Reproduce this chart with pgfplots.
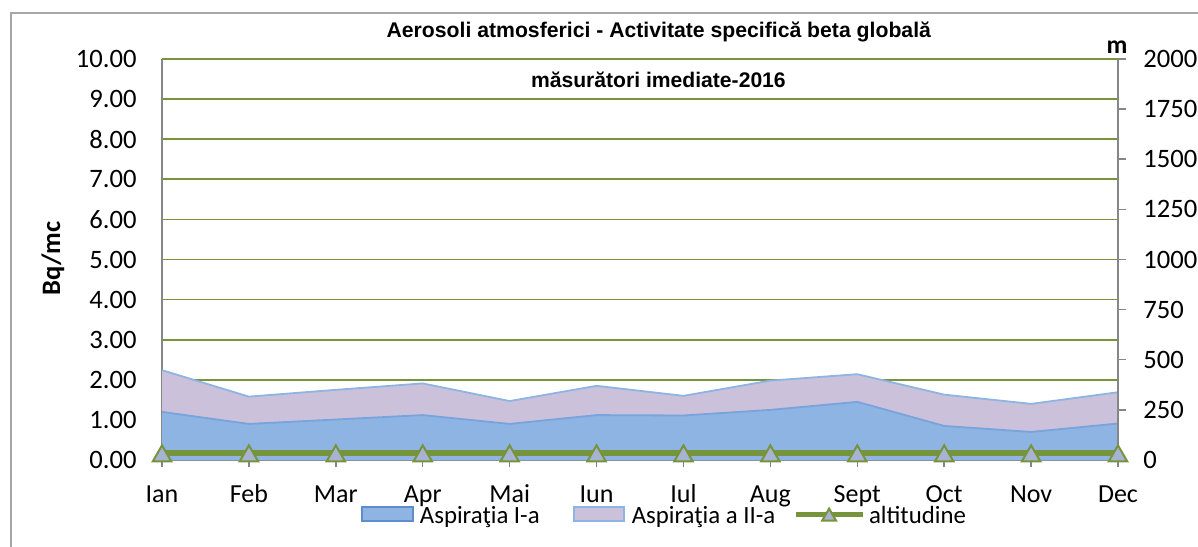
\documentclass[border=0pt]{standalone}
\usepackage{pgfplots}
\pgfplotsset{compat=1.18}
\usepackage{pgfplotstable}
\usepackage{fontspec}
\setmainfont{Carlito}
\newfontfamily\titlefont{Liberation Sans}
\definecolor{gridgreen}{RGB}{119,147,60}
\definecolor{axisgray}{RGB}{134,134,134}
\definecolor{framegray}{RGB}{166,166,166}
\definecolor{bluefill}{RGB}{141,180,226}
\definecolor{blueline}{RGB}{120,163,220}
\definecolor{blueedge}{RGB}{95,140,205}
\definecolor{purplefill}{RGB}{204,193,218}
\definecolor{purpleline}{RGB}{141,180,226}
\definecolor{markfill}{RGB}{166,180,209}

\pgfplotsset{
  bluelegend/.style={legend image code/.code={\draw[fill=bluefill, draw=blueedge, line width=0.75pt] (0pt,-3.5pt) rectangle (25.5pt,3.5pt);}},
  purplelegend/.style={legend image code/.code={\draw[fill=purplefill, draw=purpleline, line width=0.75pt] (0pt,-3.5pt) rectangle (25pt,3.5pt);}},
  altlegend/.style={legend image code/.code={\draw[mark repeat=2, mark phase=2, ##1, line width=2.5pt, mark size=4pt] plot coordinates {(0pt,0pt) (16.75pt,0pt) (33.5pt,0pt)};}},
}

\pgfplotstableread{
x a1 a2
0  1.20 2.24
1  0.90 1.58
2  1.01 1.75
3  1.12 1.91
4  0.90 1.47
5  1.12 1.85
6  1.11 1.60
7  1.25 1.98
8  1.45 2.14
9  0.85 1.63
10 0.70 1.40
11 0.91 1.69
}\datatable

\pgfplotstableread{
x alt
0  33
1  33
2  33
3  33
4  33
5  33
6  33
7  33
8  33
9  33
10 33
11 33
}\alttable

\begin{document}
\begin{tikzpicture}
\useasboundingbox (0,0) rectangle (599pt,273pt);
\draw[framegray, line width=1pt] (5.5pt,-5pt) -- (5.5pt,266.5pt) -- (610pt,266.5pt);
\begin{axis}[
  at={(81pt,43pt)}, anchor=south west, scale only axis,
  width=478pt, height=200.5pt,
  xmin=0, xmax=11, ymin=0, ymax=10,
  axis y line*=left, axis x line*=bottom,
  axis line style={axisgray, line width=0.75pt},
  xtick={0,...,11},
  xticklabels={Ian,Feb,Mar,Apr,Mai,Iun,Iul,Aug,Sept,Oct,Nov,Dec},
  ytick={0,...,10},
  tick align=outside, major tick length=3.5pt,
  x tick style={axisgray, line width=0.75pt},
  y tick style={draw=none},
  ymajorgrids, grid style={gridgreen, line width=0.8pt},
  xticklabel style={font=\fontsize{13}{15}\selectfont, anchor=base, yshift=-17.7pt, inner sep=0pt},
  yticklabel style={font=\fontsize{13.3}{15}\selectfont, anchor=east, inner sep=0pt, xshift=-9pt},
  yticklabel={\pgfmathprintnumber[fixed,fixed zerofill,precision=2,assume math mode=true]{\tick}},
]
\addplot[fill=purplefill, draw=none] table[x=x, y=a2] {\datatable} \closedcycle;
\addplot[purpleline, line width=0.9pt] table[x=x, y=a2] {\datatable};
\addplot[fill=bluefill, draw=none] table[x=x, y=a1] {\datatable} \closedcycle;
\addplot[blueline, line width=0.9pt] table[x=x, y=a1] {\datatable};
\end{axis}
\begin{axis}[
  at={(81pt,43pt)}, anchor=south west, scale only axis,
  width=478pt, height=200.5pt,
  xmin=0, xmax=11, ymin=0, ymax=2000,
  axis x line=none, axis y line*=right,
  axis line style={axisgray, line width=0.75pt},
  ytick={0,250,...,2000},
  tick align=outside, major tick length=4pt,
  y tick style={axisgray, line width=0.75pt},
  yticklabel style={font=\fontsize{13.3}{15}\selectfont, anchor=west, inner sep=0pt, xshift=8.5pt},
  yticklabel={\pgfmathprintnumber[fixed,precision=0,1000 sep={},assume math mode=true]{\tick}},
  clip=false,
  legend columns=3,
  legend style={draw=none, fill=none, inner sep=0pt, at={(0.2082,-0.1397)}, anchor=west,
    font=\fontsize{12.4}{14}\selectfont, nodes={inner sep=0pt, yshift=-1pt},
    /tikz/column 1/.style={column sep=3pt},
    /tikz/column 2/.style={column sep=16.8pt},
    /tikz/column 3/.style={column sep=3.5pt},
    /tikz/column 4/.style={column sep=8.9pt},
    /tikz/column 5/.style={column sep=2pt}},
]
\addlegendimage{bluelegend}
\addlegendentry{Aspiraţia I-a}
\addlegendimage{purplelegend}
\addlegendentry{Aspiraţia a II-a}
\addplot[gridgreen, line width=3pt, mark=triangle*, mark size=5.3pt,
  mark options={fill=markfill, draw=gridgreen, line width=1pt, solid, yshift=-1.3pt}, altlegend]
  table[x=x, y=alt] {\alttable};
\addlegendentry{altitudine}
\end{axis}
\node[font=\titlefont\bfseries\fontsize{10.6}{13}\selectfont, anchor=base, inner sep=0pt] at (329.4pt,254.2pt) {Aerosoli atmosferici - Activitate specifică beta globală};
\node[font=\titlefont\bfseries\fontsize{10.56}{13}\selectfont, anchor=base, inner sep=0pt] at (329.2pt,229.2pt) {măsurători imediate-2016};
\node[font=\bfseries\fontsize{13.3}{16}\selectfont, anchor=base, rotate=90, inner sep=0pt] at (30pt,143.8pt) {Bq/mc};
\node[font=\bfseries\fontsize{12.8}{15}\selectfont, anchor=base, inner sep=0pt] at (558.5pt,246.35pt) {m};
\end{tikzpicture}
\end{document}
